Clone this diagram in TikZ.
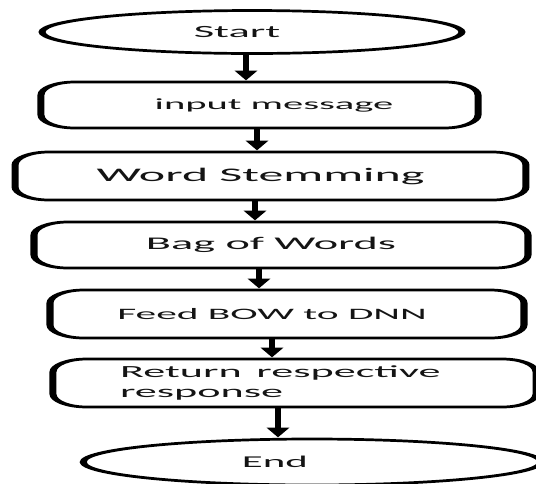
\documentclass[tikz,border=0pt]{standalone}
\usepackage{fontspec}
\setmainfont{Carlito}
\usetikzlibrary{arrows.meta,shapes.geometric}
\begin{document}
\begin{tikzpicture}
\useasboundingbox (0pt,0pt) rectangle (536pt,-483pt);
\fill[white] (0pt,0pt) rectangle (536pt,-483pt);
\begin{scope}[x=0.384615pt,y=-1pt,transform canvas={xscale=2.6},
  box/.style={draw=black,line width=2.7pt,rounded corners=13pt,inner sep=0pt,text=black!92},
  oval/.style={draw=black,line width=2.7pt,ellipse,inner sep=0pt,text=black!92},
  flow/.style={draw=black,line width=2.4pt,-{Triangle[width=8pt,length=10pt]}}]
  \node[oval,minimum width=161.5pt,minimum height=43pt,font=\fontsize{17.1}{20}\selectfont] (start) at (252,32) {Start\kern11.5pt};
  \node[box,minimum width=168.1pt,minimum height=46pt,font=\fontsize{15.6}{18}\selectfont] (in) at (259.5,105) {\kern11.2pt input message};
  \node[box,minimum width=196.5pt,minimum height=48pt,font=\fontsize{19.2}{22}\selectfont] (stem) at (270.5,176) {Word Stemming\kern7.7pt};
  \node[box,minimum width=190pt,minimum height=46pt,font=\fontsize{17.8}{20}\selectfont] (bow) at (281,245) {Bag of Words\kern7.7pt};
  \node[box,minimum width=182.3pt,minimum height=48pt,font=\fontsize{15.9}{18}\selectfont] (feed) at (287,314) {Feed BOW to DNN\kern11.5pt};
  \node[box,minimum width=185.8pt,minimum height=48pt,inner xsep=25.8pt,text width=134.2pt,align=left,font=\fontsize{17}{17.5}\selectfont] (ret) at (294.5,383) {Return respective\\[3pt]response};
  \node[oval,minimum width=176pt,minimum height=46pt,font=\fontsize{16.5}{20}\selectfont] (end) at (312,462) {End\kern28.5pt};
  \coordinate (c1) at (246,0);
  \coordinate (c2) at (257,0);
  \coordinate (c3) at (255,0);
  \coordinate (c4) at (259,0);
  \coordinate (c5) at (272,0);
  \coordinate (c6) at (278,0);
  \draw[flow] (start.south -| c1) -- (in.north -| c1);
  \draw[flow] (in.south -| c2) -- (stem.north -| c2);
  \draw[flow] (stem.south -| c3) -- (bow.north -| c3);
  \draw[flow] (bow.south -| c4) -- (feed.north -| c4);
  \draw[flow] (feed.south -| c5) -- (ret.north -| c5);
  \draw[flow] (ret.south -| c6) -- (end.north -| c6);
\end{scope}
\end{tikzpicture}
\end{document}
